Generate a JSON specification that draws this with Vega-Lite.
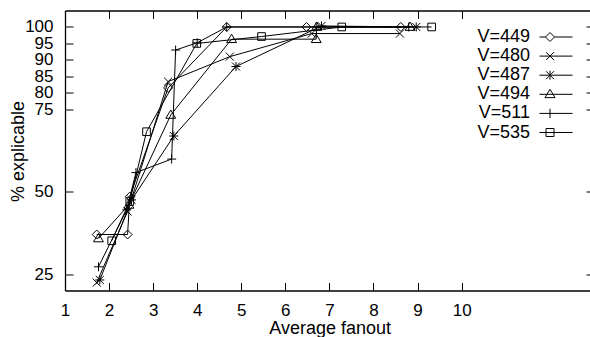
{
  "$schema": "https://vega.github.io/schema/vega-lite/v6.json",
  "width": 525,
  "height": 280,
  "autosize": {"type": "none"},
  "padding": {"left": 65, "top": 10.5, "right": 0, "bottom": 46.5},
  "config": {
    "view": {"stroke": null},
    "font": "Liberation Sans",
    "axis": {
      "grid": false,
      "domainColor": "black",
      "domainWidth": 1.3,
      "tickColor": "black",
      "tickWidth": 1,
      "labelColor": "black",
      "titleColor": "black",
      "labelFont": "Liberation Sans",
      "titleFont": "Liberation Sans",
      "labelFontSize": 17,
      "titleFontSize": 18,
      "titleFontWeight": "normal",
      "labelOverlap": false
    }
  },
  "data": {
    "values": [
      {"series": "V=449", "ord": 1, "x": 1.72, "y": 37},
      {"series": "V=449", "ord": 2, "x": 2.42, "y": 37},
      {"series": "V=449", "ord": 3, "x": 2.47, "y": 48.5},
      {"series": "V=449", "ord": 4, "x": 3.34, "y": 81.5},
      {"series": "V=449", "ord": 5, "x": 4.67, "y": 100},
      {"series": "V=449", "ord": 6, "x": 6.48, "y": 100},
      {"series": "V=449", "ord": 7, "x": 8.62, "y": 100},
      {"series": "V=480", "ord": 1, "x": 1.72, "y": 22.4},
      {"series": "V=480", "ord": 2, "x": 2.42, "y": 44},
      {"series": "V=480", "ord": 3, "x": 3.34, "y": 83.4},
      {"series": "V=480", "ord": 4, "x": 4.74, "y": 91},
      {"series": "V=480", "ord": 5, "x": 6.6, "y": 98},
      {"series": "V=480", "ord": 6, "x": 8.6, "y": 98},
      {"series": "V=487", "ord": 1, "x": 1.79, "y": 23.2},
      {"series": "V=487", "ord": 2, "x": 2.51, "y": 47.5},
      {"series": "V=487", "ord": 3, "x": 3.47, "y": 66.9},
      {"series": "V=487", "ord": 4, "x": 4.88, "y": 88},
      {"series": "V=487", "ord": 5, "x": 6.82, "y": 100.3},
      {"series": "V=487", "ord": 6, "x": 8.97, "y": 100},
      {"series": "V=494", "ord": 1, "x": 1.76, "y": 35.8},
      {"series": "V=494", "ord": 2, "x": 2.45, "y": 46},
      {"series": "V=494", "ord": 3, "x": 3.4, "y": 73.3},
      {"series": "V=494", "ord": 4, "x": 4.78, "y": 96.3},
      {"series": "V=494", "ord": 5, "x": 6.7, "y": 96.3},
      {"series": "V=494", "ord": 6, "x": 6.71, "y": 100},
      {"series": "V=494", "ord": 7, "x": 8.83, "y": 100},
      {"series": "V=511", "ord": 1, "x": 1.76, "y": 27.2},
      {"series": "V=511", "ord": 2, "x": 2.4, "y": 44.5},
      {"series": "V=511", "ord": 3, "x": 2.61, "y": 55.8},
      {"series": "V=511", "ord": 4, "x": 3.42, "y": 59.9},
      {"series": "V=511", "ord": 5, "x": 3.51, "y": 93},
      {"series": "V=511", "ord": 6, "x": 4.0, "y": 95.2},
      {"series": "V=511", "ord": 7, "x": 4.67, "y": 100},
      {"series": "V=511", "ord": 8, "x": 6.7, "y": 100},
      {"series": "V=511", "ord": 9, "x": 8.8, "y": 100},
      {"series": "V=535", "ord": 1, "x": 2.06, "y": 35.1},
      {"series": "V=535", "ord": 2, "x": 2.47, "y": 47},
      {"series": "V=535", "ord": 3, "x": 2.85, "y": 68.2},
      {"series": "V=535", "ord": 4, "x": 3.99, "y": 95},
      {"series": "V=535", "ord": 5, "x": 5.46, "y": 97.1},
      {"series": "V=535", "ord": 6, "x": 7.28, "y": 100},
      {"series": "V=535", "ord": 7, "x": 9.32, "y": 100}
    ]
  },
  "layer": [
    {
      "mark": {"type": "line", "color": "black", "strokeWidth": 1},
      "encoding": {
        "x": {
          "field": "x", "type": "quantitative",
          "scale": {"domain": [1, 12.913], "nice": false, "zero": false},
          "axis": {
            "orient": "bottom",
            "values": [1, 2, 3, 4, 5, 6, 7, 8, 9, 10],
            "tickSize": -8,
            "labelPadding": 33,
            "labelBaseline": "alphabetic",
            "labelFlush": false,
            "title": "Average fanout",
            "titleX": 264.7,
            "titleY": 42.5,
            "titleBaseline": "alphabetic",
            "titleAlign": "center"
          }
        },
        "y": {
          "field": "y", "type": "quantitative",
          "scale": {"domain": [20, 105], "nice": false, "zero": false},
          "axis": {
            "orient": "left",
            "values": [25, 50, 75, 80, 85, 90, 95, 100],
            "tickSize": -8,
            "labelPadding": 20,
            "labelBaseline": "middle",
            "labelFlush": false,
            "title": "% explicable",
            "titleX": -42,
            "titleY": 140.5,
            "titleAngle": -90,
            "titleBaseline": "alphabetic",
            "titleAlign": "center"
          }
        },
        "detail": {"field": "series"},
        "order": {"field": "ord"}
      }
    },
    {
      "mark": {"type": "point", "filled": false, "color": "black", "strokeWidth": 1, "size": 81, "opacity": 1},
      "encoding": {
        "x": {
          "field": "x", "type": "quantitative",
          "axis": {
            "orient": "top",
            "values": [1, 2, 3, 4, 5, 6, 7, 8, 9, 10],
            "tickSize": -8,
            "labels": false,
            "title": null
          }
        },
        "y": {
          "field": "y", "type": "quantitative",
          "axis": {
            "orient": "right",
            "values": [25, 50, 75, 80, 85, 90, 95, 100],
            "tickSize": -4,
            "labels": false,
            "domain": false,
            "title": null
          }
        },
        "shape": {
          "field": "series", "type": "nominal",
          "scale": {
            "domain": ["V=449", "V=480", "V=487", "V=494", "V=511", "V=535"],
            "range": [
              "M0,-1L1,0L0,1L-1,0Z",
              "M-0.9,-0.9L0.9,0.9M-0.9,0.9L0.9,-0.9",
              "M-0.9,-0.9L0.9,0.9M-0.9,0.9L0.9,-0.9M-1,0L1,0M0,-1L0,1",
              "M0,-1.1L1.1,0.75L-1.1,0.75Z",
              "M-1,0L1,0M0,-1L0,1",
              "M-0.85,-0.85L0.85,-0.85L0.85,0.85L-0.85,0.85Z"
            ]
          },
          "legend": null
        }
      }
    },
    {
      "mark": {"type": "point", "filled": false, "color": "black", "opacity": 0},
      "encoding": {
        "x": {"field": "x", "type": "quantitative", "axis": null},
        "y": {"field": "y", "type": "quantitative", "axis": null},
        "shape": {
          "field": "series", "type": "nominal",
          "scale": {
            "domain": ["V=449", "V=480", "V=487", "V=494", "V=511", "V=535"],
            "range": [
              "M-3.3,0L-2.1,0M-0.3,0L3.3,0M-1.2,-0.9L-0.3,0L-1.2,0.9L-2.1,0Z",
              "M-3.3,0L3.3,0M-2,-0.8L-0.4,0.8M-2,0.8L-0.4,-0.8",
              "M-3.3,0L3.3,0M-2,-0.8L-0.4,0.8M-2,0.8L-0.4,-0.8M-1.2,-0.9L-1.2,0.9",
              "M-3.3,0L3.3,0M-1.2,-1L-0.2,0.67L-2.2,0.67Z",
              "M-3.3,0L3.3,0M-1.2,-0.93L-1.2,0.93",
              "M-3.3,0L3.3,0M-2,-0.8L-0.4,-0.8L-0.4,0.8L-2,0.8Z"
            ]
          },
          "legend": {
            "orient": "none",
            "legendX": 482,
            "legendY": 17.5,
            "title": null,
            "padding": 0,
            "labelFont": "Liberation Sans",
            "labelFontSize": 18,
            "labelColor": "black",
            "labelAlign": "right",
            "labelOffset": -35,
            "labelLimit": 200,
            "symbolSize": 100,
            "symbolStrokeWidth": 1,
            "symbolStrokeColor": "black",
            "symbolFillColor": "transparent",
            "symbolOpacity": 1,
            "rowPadding": 1.1
          }
        }
      }
    }
  ],
  "resolve": {
    "scale": {"shape": "independent"},
    "axis": {"x": "independent", "y": "independent"}
  }
}
